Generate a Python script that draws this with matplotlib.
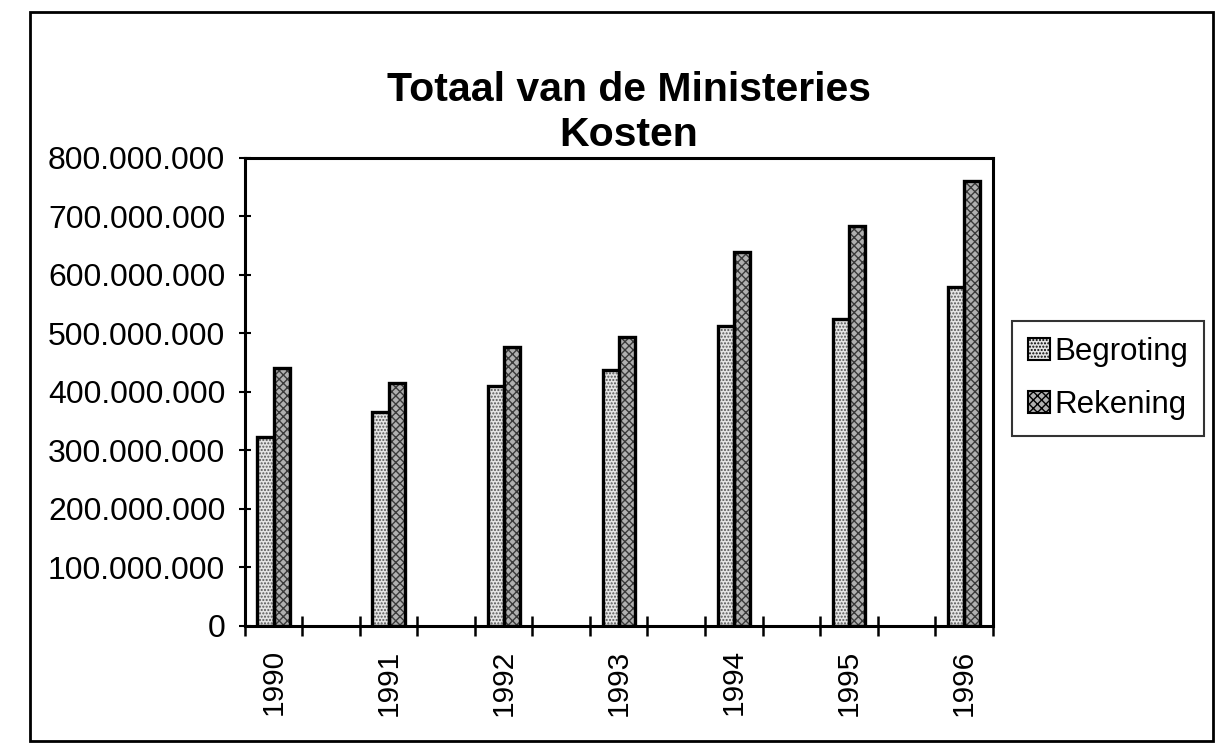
import matplotlib
matplotlib.use("Agg")
import matplotlib.pyplot as plt
from matplotlib.patches import Patch, Rectangle
from matplotlib.ticker import FuncFormatter

# values
years = ["1990", "1991", "1992", "1993", "1994", "1995", "1996"]
begroting = [322e6, 366e6, 410e6, 437e6, 513e6, 525e6, 579e6]
rekening = [441e6, 415e6, 477e6, 494e6, 638e6, 684e6, 760e6]
series_names = ["Begroting", "Rekening"]
yticks = [0, 100e6, 200e6, 300e6, 400e6, 500e6, 600e6, 700e6, 800e6]

plt.rcParams["font.family"] = ["Liberation Sans", "DejaVu Sans"]

fig = plt.figure(figsize=(12.3, 7.44), dpi=100)
ax = fig.add_axes([0.199, 0.159, 0.608, 0.629])

# each year sits in every other slot, the slots in between stay empty
n_slots = 2 * len(years) - 1
centers = [2 * i + 0.5 for i in range(len(years))]
w = 0.28
x_b = [c - w / 2 for c in centers]
x_r = [c + w / 2 for c in centers]

# hatched fill first, black outline on top
ax.bar(x_b, begroting, width=w, color="#e4e4e4", edgecolor="#555555",
       linewidth=0, hatch=".....", zorder=2)
ax.bar(x_r, rekening, width=w, color="#b0b0b0", edgecolor="#3a3a3a",
       linewidth=0, hatch="xxxx", zorder=2)
ax.bar(x_b, begroting, width=w, fill=False, edgecolor="black", linewidth=2.4, zorder=3)
ax.bar(x_r, rekening, width=w, fill=False, edgecolor="black", linewidth=2.4, zorder=3)

ax.set_xlim(0, n_slots)
ax.set_ylim(0, 800e6)

ax.set_yticks(yticks)
ax.yaxis.set_major_formatter(
    FuncFormatter(lambda v, p: f"{int(v):,}".replace(",", ".")))
ax.tick_params(axis="y", direction="inout", length=8, width=1.5,
               labelsize=23, pad=10)

ax.set_xticks(centers)
ax.set_xticklabels(years, rotation=90, fontsize=21.5)
ax.set_xticks(range(n_slots + 1), minor=True)
ax.tick_params(axis="x", which="major", length=0, pad=17)
ax.tick_params(axis="x", which="minor", direction="inout", length=14, width=1.8)

for s in ax.spines.values():
    s.set_linewidth(2.2)

handles = [
    Patch(facecolor="#e4e4e4", edgecolor="black", hatch=".....", linewidth=1.5),
    Patch(facecolor="#b0b0b0", edgecolor="black", hatch="xxxx", linewidth=1.5),
]
fig.legend(handles, series_names, loc="upper left",
           bbox_to_anchor=(1012 / 1230, 1 - 321 / 744), fontsize=22.5,
           frameon=True, fancybox=False, edgecolor="black",
           handlelength=0.7, handleheight=0.7, handletextpad=0.15,
           borderpad=0.5, labelspacing=0.75, borderaxespad=0)
fig.legends[0].get_frame().set_linewidth(1.5)

fig.text(0.511, 0.849, "Totaal van de Ministeries\nKosten", ha="center",
         va="center", fontsize=29.5, fontweight="bold", linespacing=1.25)

# outer border of the chart sheet
fig.patches.append(Rectangle((0.024, 0.004), 0.962, 0.98, transform=fig.transFigure,
                             fill=False, edgecolor="black", linewidth=2))

fig.savefig("out.png", dpi=100)
